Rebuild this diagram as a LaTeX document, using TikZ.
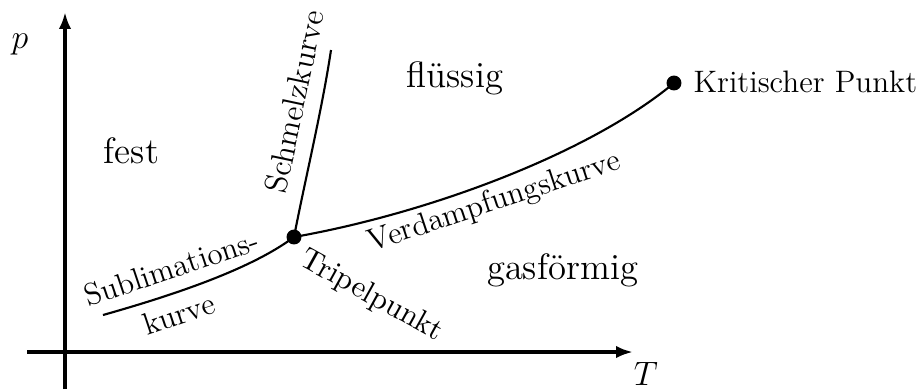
\documentclass[tikz,border=0pt]{standalone}
\usepackage{fontspec}
\usetikzlibrary{arrows.meta}
\begin{document}
\begin{tikzpicture}[x=0.3543pt,y=-0.3543pt,
  axis/.style={line width=1.4pt,-{Latex[length=6pt,width=4.4pt]}},
  curve/.style={line width=0.75pt},
  dot/.style={circle,fill,inner sep=0pt,minimum size=5.3pt},
  region/.style={font=\fontsize{13}{15}\selectfont,anchor=base,inner sep=0pt},
  lbl/.style={font=\fontsize{11}{13}\selectfont,anchor=base,inner sep=0pt},
  axlbl/.style={font=\fontsize{12}{14}\selectfont,anchor=base,inner sep=0pt}]
\useasboundingbox (0,0) rectangle (923,389);
% axes
\coordinate (xs) at (27,352);
\coordinate (xe) at (633,352);
\coordinate (ys) at (65,389);
\coordinate (ye) at (65,12);
\draw[axis] (xs) -- (xe);
\draw[axis] (ys) -- (ye);
\node[axlbl] (plbl) at (20,48) {$p$};
\node[axlbl] (tlbl) at (646,385) {$T$};
% points
\node[dot] (tp) at (294,237) {};
\node[dot] (cp) at (674,83) {};
\coordinate (s0) at (103,315);
\coordinate (m1) at (331,50);
% curves
\draw[curve] (s0) .. controls (170,296) and (250,270) .. (tp.center);
\draw[curve] (tp.center) .. controls (305,180) and (322,110) .. (m1);
\draw[curve] (tp.center) .. controls (430,213) and (590,153) .. (cp.center);
% regions
\node[region] (fest) at (131.5,163) {fest};
\node[region] (fl) at (455,87) {flüssig};
\node[region] (gas) at (562.5,279) {gasförmig};
% labels
\node[lbl,font=\fontsize{11.3}{13}\selectfont,rotate=78] (schmelz) at (305,104) {Schmelzkurve};
\node[lbl,rotate=18.4] (verd) at (497,210) {Verdampfungskurve};
\node[lbl,anchor=base west] (krit) at (693,92) {Kritischer Punkt};
\node[lbl,rotate=18.5] (subl1) at (175,278) {Sublimations-};
\node[lbl,rotate=18.5] (subl2) at (182,324) {kurve};
\node[lbl,font=\fontsize{10.8}{12}\selectfont,rotate=-29] (tripel) at (368,303) {Tripelpunkt};
\end{tikzpicture}
\end{document}
